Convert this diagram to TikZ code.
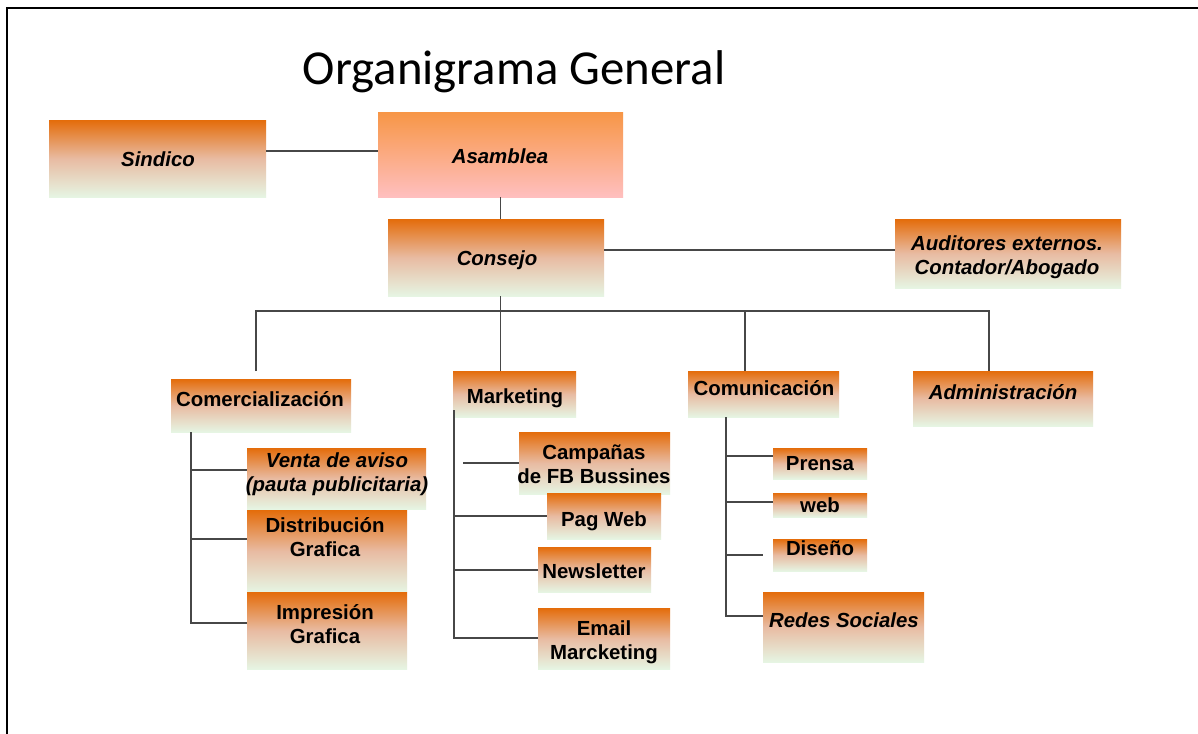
\documentclass[tikz,border=0pt]{standalone}
\usepackage{fontspec}
\setmainfont{Liberation Sans}
\newfontfamily\titlefont{Carlito}
\definecolor{orTop}{HTML}{E46C0A}
\definecolor{orMid}{HTML}{E8BBA2}
\definecolor{grBot}{HTML}{E6F5E3}
\definecolor{asTop}{HTML}{F79646}
\definecolor{asBot}{HTML}{FFBFBF}
\definecolor{lineGray}{HTML}{474747}
\newcommand\orgbox[6]{\node[#6, minimum width={(#4-#2)*0.75pt}, minimum height={(#5-#3)*0.75pt}] (#1) at ({(#2+#4)/2},{(#3+#5)/2}) {};}
\tikzset{
  obox/.style={draw=none, inner sep=0pt, outer sep=0pt, top color=orTop, bottom color=grBot, middle color=orMid},
  abox/.style={draw=none, inner sep=0pt, outer sep=0pt, top color=asTop, bottom color=asBot},
  txt/.style={font=\fontsize{15.3}{18}\selectfont\bfseries, align=center, anchor=base, inner sep=0pt},
  itxt/.style={txt, font=\fontsize{15.3}{18}\selectfont\bfseries\itshape},
  conn/.style={draw=lineGray, line width=1pt},
  frame/.style={draw=black, line width=1.6pt}
}
\begin{document}
\begin{tikzpicture}[x=0.75pt, y=-0.75pt]
\useasboundingbox (0,0) rectangle (1198,733);
\fill[white] (0,0) rectangle (1198,733);
\draw[frame] (7,740) -- (7,8) -- (1200,8);

\node[font=\titlefont\fontsize{36.6}{40}\selectfont, anchor=base, inner sep=0pt] (title) at (514,84) {Organigrama General};

% boxes
\orgbox{sindico}{49}{120}{266}{197}{obox}
\orgbox{asamblea}{378}{112}{623}{197}{abox}
\orgbox{consejo}{388}{219}{604}{296}{obox}
\orgbox{auditores}{895}{219}{1121}{288}{obox}
\orgbox{comercializacion}{171}{379}{351}{432}{obox}
\orgbox{marketing}{453}{371}{576}{417}{obox}
\orgbox{comunicacion}{688}{371}{839}{417}{obox}
\orgbox{admin}{913}{371}{1093}{426}{obox}
\orgbox{venta}{247}{448}{426}{509}{obox}
\orgbox{distribucion}{247}{510}{407}{592}{obox}
\orgbox{impresion}{247}{592}{407}{669}{obox}
\orgbox{campanas}{519}{432}{670}{494}{obox}
\orgbox{pagweb}{547}{493}{661}{539}{obox}
\orgbox{newsletter}{538}{547}{651}{592}{obox}
\orgbox{email}{538}{608}{670}{669}{obox}
\orgbox{prensa}{773}{448}{867}{479}{obox}
\orgbox{web}{773}{493}{867}{517}{obox}
\orgbox{diseno}{773}{539}{867}{571}{obox}
\orgbox{redes}{763}{592}{924}{662}{obox}

% texts (anchor = baseline of the last line)
\node[itxt] (t-sindico) at (158,166) {Sindico};
\node[itxt] (t-asamblea) at (500,163) {Asamblea};
\node[itxt] (t-consejo) at (497,265) {Consejo};
\node[itxt] (t-auditores) at (1007,274) {Auditores externos.\\Contador/Abogado};
\node[txt] (t-comercializacion) at (260,406) {Comercialización};
\node[txt] (t-marketing) at (515,403) {Marketing};
\node[txt] (t-comunicacion) at (764,395) {Comunicación};
\node[itxt] (t-admin) at (1003,399) {Administración};
\node[itxt] (t-venta) at (337,491) {Venta de aviso\\(pauta publicitaria)};
\node[txt] (t-distribucion) at (325,556) {Distribución\\Grafica};
\node[txt] (t-impresion) at (325,643) {Impresión\\Grafica};
\node[txt] (t-campanas) at (594,483) {Campañas\\de FB Bussines};
\node[txt] (t-pagweb) at (604,526) {Pag Web};
\node[txt] (t-newsletter) at (594,578) {Newsletter};
\node[txt] (t-email) at (604,659) {Email\\Marcketing};
\node[txt] (t-prensa) at (820,470) {Prensa};
\node[txt] (t-web) at (820,512) {web};
\node[txt] (t-diseno) at (820,555) {Diseño};
\node[itxt] (t-redes) at (844,627) {Redes Sociales};

% connector coordinates
\coordinate (sinY) at (0,151);
\coordinate (audY) at (0,250);
\coordinate (busY) at (0,311);
\coordinate (comDrop) at (256,371);
\coordinate (cuX) at (745,0);
\coordinate (admX) at (989,0);
\coordinate (jVen) at (191,470);
\coordinate (jDis) at (191,539);
\coordinate (jImp) at (191,623);
\coordinate (mTop) at (454,410);
\coordinate (jPag) at (454,516);
\coordinate (jNew) at (454,570);
\coordinate (jEm) at (454,638);
\coordinate (jCam) at (463,463);
\coordinate (jPre) at (726,456);
\coordinate (jWeb) at (726,502);
\coordinate (jDis2) at (726,555);
\coordinate (jDisE) at (763,555);
\coordinate (jRed) at (726,616);

% connectors
\draw[conn] (sindico.east |- sinY) -- (asamblea.west |- sinY);
\draw[conn] (asamblea.south) -- (asamblea.south |- consejo.north);
\draw[conn] (consejo.east |- audY) -- (auditores.west |- audY);
\draw[conn] (consejo.south -| asamblea.south) -- (asamblea.south |- marketing.north);
\draw[conn] (comDrop) |- (admX |- busY) -- (admX |- admin.north);
\draw[conn] (cuX |- busY) -- (cuX |- comunicacion.north);

\draw[conn] (jVen |- comercializacion.south) -- (jImp) -- (impresion.west |- jImp);
\draw[conn] (jVen) -- (venta.west |- jVen);
\draw[conn] (jDis) -- (distribucion.west |- jDis);

\draw[conn] (mTop) -- (jEm) -- (email.west |- jEm);
\draw[conn] (jPag) -- (pagweb.west |- jPag);
\draw[conn] (jNew) -- (newsletter.west |- jNew);
\draw[conn] (jCam) -- (campanas.west |- jCam);

\draw[conn] (jPre |- comunicacion.south) -- (jRed) -- (redes.west |- jRed);
\draw[conn] (jPre) -- (prensa.west |- jPre);
\draw[conn] (jWeb) -- (web.west |- jWeb);
\draw[conn] (jDis2) -- (jDisE);
\end{tikzpicture}
\end{document}
